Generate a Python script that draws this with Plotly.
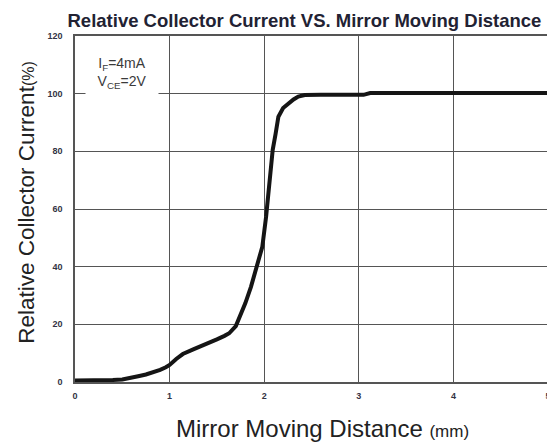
import plotly.graph_objects as go

# Curve data
distance_mm = [0.0, 0.1, 0.2, 0.3, 0.4, 0.5, 0.6, 0.68, 0.75, 0.82, 0.9, 0.96, 1.0, 1.07, 1.14,
               1.25, 1.35, 1.42, 1.5, 1.58, 1.63, 1.70, 1.75, 1.80, 1.86, 1.91, 1.98, 2.02, 2.05,
               2.09, 2.12, 2.15, 2.20, 2.26, 2.31, 2.36, 2.43, 2.6, 2.8, 3.05, 3.12, 3.5, 4.0, 4.5, 5.0]
rel_current = [0.5, 0.5, 0.6, 0.6, 0.7, 0.9, 1.4, 2.1, 2.6, 3.2, 4.2, 5.1, 5.9, 8.0, 9.7,
               11.3, 12.6, 13.4, 14.8, 16.0, 16.9, 19.4, 23.0, 27.3, 33.0, 38.8, 46.9, 57.3, 68.9,
               80.5, 86.0, 92.0, 95.0, 96.7, 98.0, 99.0, 99.5, 99.6, 99.6, 99.6, 100.2, 100.2, 100.2, 100.2, 100.2]

x_ticks = [0, 1, 2, 3, 4, 5]
y_ticks = [0, 20, 40, 60, 80, 100, 120]

title_text = "Relative Collector Current VS. Mirror Moving Distance"
x_title = "Mirror Moving Distance <span style='font-size:17px'>(mm)</span>"
y_title = "Relative Collector Current<span style='font-size:16px'>(%)</span>"
cond_text = "I<sub>F</sub>=4mA<br>V<sub>CE</sub>=2V"

fig = go.Figure()
fig.add_trace(go.Scatter(x=distance_mm, y=rel_current, mode="lines",
                         line=dict(color="#151515", width=4), showlegend=False, hoverinfo="skip"))

axis_common = dict(showgrid=True, gridcolor="#555555", gridwidth=1, zeroline=False,
                   showline=True, linecolor="#555555", linewidth=1.5, mirror=True,
                   ticks="", tickfont=dict(family="Liberation Sans", size=9, color="#333344",
                                           weight="bold"))

fig.update_xaxes(range=[0, 5], tickvals=x_ticks, ticktext=[str(v) for v in x_ticks],
                 ticklabelstandoff=4, **axis_common)
fig.update_yaxes(range=[0, 120], tickvals=y_ticks, ticktext=[str(v) for v in y_ticks],
                 ticklabelstandoff=9, **axis_common)

fig.add_annotation(text=cond_text, xref="paper", yref="paper", x=0.0987, y=0.893,
                   xanchor="center", yanchor="middle", showarrow=False, align="center",
                   bgcolor="white", borderpad=5, width=62, height=42,
                   font=dict(family="Liberation Sans", size=14, color="#3a3a3a"))
fig.add_annotation(text=x_title, xref="paper", yref="paper", x=0.523, y=-0.134,
                   xanchor="center", yanchor="middle", showarrow=False,
                   font=dict(family="Liberation Sans", size=24, color="#222222"))
fig.add_annotation(text=y_title, xref="paper", yref="paper", x=-0.103, y=0.519,
                   xanchor="center", yanchor="middle", showarrow=False, textangle=-90,
                   font=dict(family="Liberation Sans", size=22.5, color="#222222"))

# The page body adds an 8px offset, so the figure is 8px smaller than the window
fig.update_layout(
    width=547, height=434,
    margin=dict(l=67, r=4, t=28, b=60),
    paper_bgcolor="white", plot_bgcolor="white",
    title=dict(text="<b>" + title_text + "</b>", x=0.542, xanchor="center",
               y=0.972, yanchor="middle",
               font=dict(family="Liberation Sans", size=18.5, color="#222233")),
)

fig.write_html("out.html")
